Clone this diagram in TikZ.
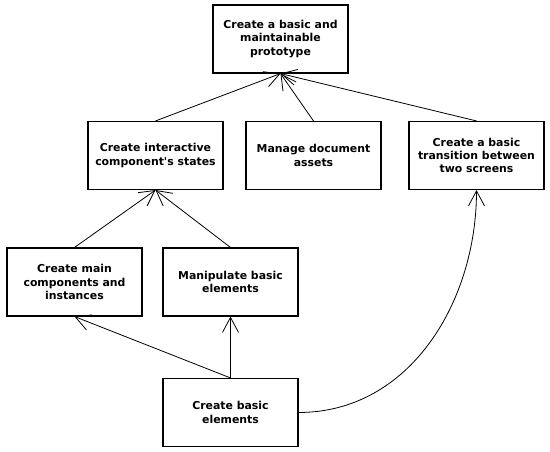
\documentclass[tikz,border=0pt]{standalone}
\usepackage{fontspec}
\setmainfont{DejaVu Sans}
\usetikzlibrary{arrows.meta}
\begin{document}
\begin{tikzpicture}[x=1pt,y=1pt,
    task/.style={draw,line width=1.1pt,minimum width=135pt,minimum height=68pt,
        inner sep=0pt,align=center,font=\fontsize{10.9}{13.4}\selectfont\bfseries},
    dep/.style={-{Straight Barb[length=15pt,width=16pt,line width=0.8pt]},line width=0.8pt}]
    \useasboundingbox (0,0) rectangle (550,452);
    % top goal
    \node[task] (proto) at (280.5,413)
        {Create a basic and\\maintainable\\prototype};
    % middle row
    \node[task] (states) at (155.5,296.5)
        {Create interactive\\component\textquotesingle s states};
    \node[task] (assets) at (313.5,296.5)
        {Manage document\\assets};
    \node[task] (trans) at (476.5,296.5)
        {Create a basic\\transition between\\two screens};
    % lower row
    \node[task] (comps) at (74.5,170)
        {Create main\\components and\\instances};
    \node[task] (manip) at (230.5,170)
        {Manipulate basic\\elements};
    \node[task] (basic) at (230.5,39.5)
        {Create basic\\elements};

    \draw[dep] (states.north) -- (proto.south);
    \draw[dep] (assets.north) -- (proto.south);
    \draw[dep] (trans.north) -- (proto.south);
    \draw[dep] (comps.north) -- (states.south);
    \draw[dep] (manip.north) -- (states.south);
    \draw[dep] (basic.north) -- (comps.south);
    \draw[dep] (basic.north) -- (manip.south);
    \draw[dep] (basic.east) to[out=0,in=-90] (trans.south);
\end{tikzpicture}
\end{document}
